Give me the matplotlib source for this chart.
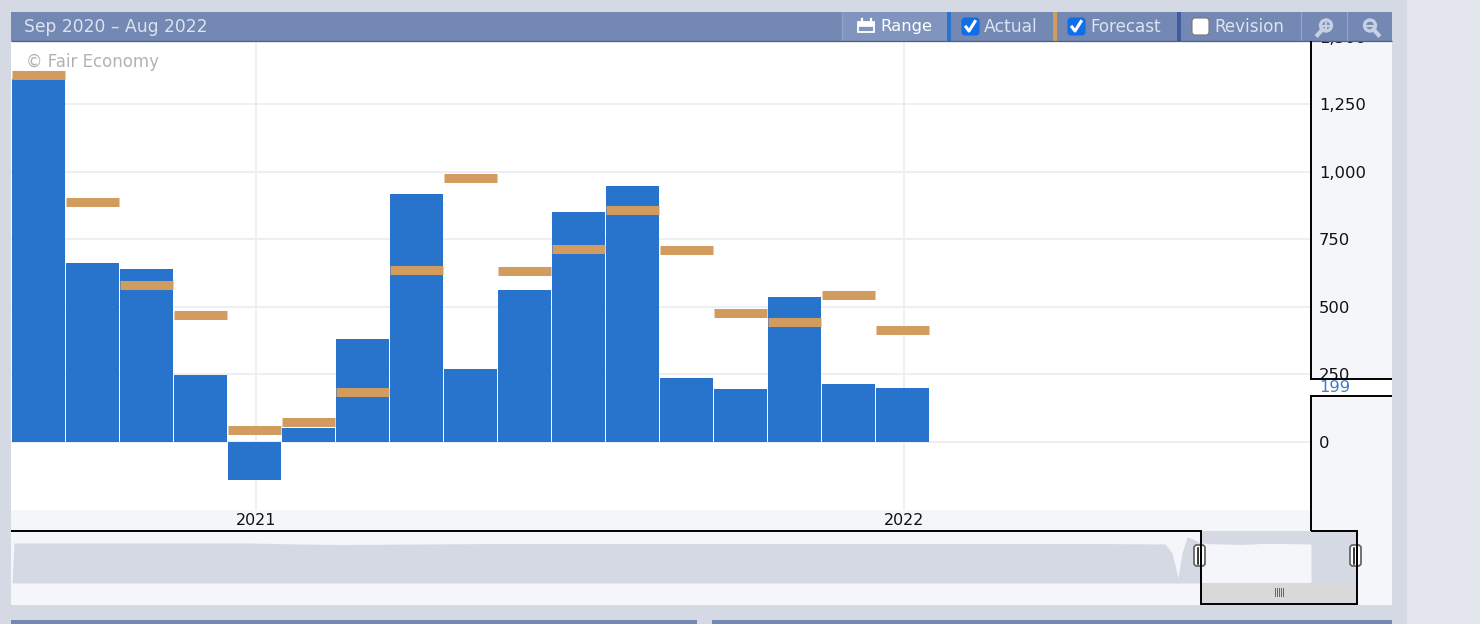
import matplotlib
matplotlib.use("Agg")
import matplotlib.pyplot as plt
from matplotlib.patches import Rectangle, FancyBboxPatch, Circle

# ---- data ----
months = ["Sep 2020", "Oct 2020", "Nov 2020", "Dec 2020", "Jan 2021", "Feb 2021", "Mar 2021",
          "Apr 2021", "May 2021", "Jun 2021", "Jul 2021", "Aug 2021", "Sep 2021", "Oct 2021",
          "Nov 2021", "Dec 2021", "Jan 2022"]
actual = [1344, 663, 640, 248, -141, 52, 381, 918, 270, 563, 852, 948, 237, 196, 537, 215, 199]
forecast = [1360, 889, 581, 470, 45, 75, 185, 637, 978, 633, 715, 859, 711, 478, 444, 544, 415]
y_ticks = [0, 250, 500, 750, 1000, 1250, 1500]
y_tick_labels = ["0", "250", "500", "750", "1,000", "1,250", "1,500"]
year_ticks = [4.025, 16.025]
year_labels = ["2021", "2022"]
last_value = "199"
title_text = "Sep 2020 – Aug 2022"
credit_text = "© Fair Economy"
# overview strip: horizontal position along the full history, level of the series
nav_pos = [12, 14, 120, 250, 300, 340, 500, 800, 1100, 1165, 1172, 1178, 1182, 1187, 1193, 1201]
nav_level = [0, 40, 40, 40, 39, 38.5, 39.5, 39.5, 39.5, 39, 30, 5, 30, 46, 44, 40]
sel_pos = [1201, 1207, 1240, 1262, 1280, 1311]
sel_level = [40, 39.5, 38.5, 39.5, 39.5, 39]

# ---- colours ----
PANEL = "#d5d9e3"; OUTER = "#e4e6ed"; HEAD = "#7488b4"; LIGHT = "#f4f6fa"
BLUE = "#2874cd"; ORANGE = "#d19c5e"; GRID = "#eceef3"; HEADTXT = "#dce3f0"

W, H = 1480, 624
fig = plt.figure(figsize=(W / 100, H / 100), dpi=100, facecolor=OUTER)
FS = 11.8
FB = 12.0


def px_axes(x0, y0, x1, y1, z):
    return fig.add_axes([x0 / W, 1 - y1 / H, (x1 - x0) / W, (y1 - y0) / H], zorder=z)


# background
bg = px_axes(0, 0, W, H, 0)
bg.set_xlim(0, W); bg.set_ylim(H, 0); bg.axis("off")
bg.add_patch(Rectangle((0, 0), 1407, H, fc=PANEL, ec="none"))
bg.add_patch(Rectangle((11, 41), 1381, 564, fc=LIGHT, ec="none"))
bg.add_patch(Rectangle((11, 620), 686, 4, fc=HEAD, ec="none"))
bg.add_patch(Rectangle((712, 620), 680, 4, fc=HEAD, ec="none"))

# main chart (its top edge runs under the header bar, which hides most of the 1,500 label)
ax = px_axes(11, 36, 1311, 510, 1)
ax.set_facecolor("white")
for s in ax.spines.values():
    s.set_visible(False)
ax.set_axisbelow(True)
ax.grid(True, color=GRID, lw=1.3)
ax.bar(range(len(months)), actual, width=53 / 54, color=BLUE, zorder=2)
xs = list(range(len(forecast)))
ax.hlines(forecast, [i - 26.5 / 54 for i in xs], [i + 26.5 / 54 for i in xs],
          color=ORANGE, lw=6.5, capstyle="butt", zorder=3)
ax.yaxis.tick_right()
ax.set_yticks(y_ticks, y_tick_labels)
ax.set_xticks(year_ticks, year_labels)
ax.set_xlim((11 - 38.8) / 54, (1311 - 38.8) / 54)
ax.set_ylim(-252, 406 / 0.27)
ax.tick_params(axis="y", length=0, pad=5.8, labelsize=FS, labelcolor="#111111")
ax.tick_params(axis="x", length=0, pad=2.0, labelsize=11.4, labelcolor="#111111")
ax.text(26, 62, credit_text, transform=bg.transData, color="#b2b2b2", fontsize=FB,
        va="center", ha="left", zorder=5)

# overview strip
nav = px_axes(11, 531, 1357, 583, 2)
nav.set_xlim(11, 1357); nav.set_ylim(0, 52); nav.axis("off")
nav.fill_between(nav_pos, nav_level, 0, color=PANEL, lw=0)
nav.add_patch(Rectangle((1201, 0), 156, 52, fc=PANEL, ec="none"))
nav.fill_between(sel_pos, sel_level, 0, color=LIGHT, lw=0)

# foreground chrome
fg = px_axes(0, 0, W, H, 3)
fg.set_xlim(0, W); fg.set_ylim(H, 0); fg.axis("off"); fg.patch.set_alpha(0)

# header bar
fg.add_patch(Rectangle((11, 12), 1381, 29, fc=HEAD, ec="none"))
fg.add_patch(Rectangle((842, 12), 105, 29, fc="#8094bd", ec="none"))
for x0, x1, c in [(947, 951, BLUE), (1053, 1057, ORANGE), (1177, 1181, "#3e5c9e")]:
    fg.add_patch(Rectangle((x0, 12), x1 - x0, 29, fc=c, ec="none"))
for x in (842, 1301, 1347):
    fg.plot([x, x], [12, 41], color="#93a4c8", lw=0.9)
fg.plot([11, 1392], [41, 41], color="#4d5f85", lw=0.9, solid_capstyle="butt")
fg.text(24, 26.5, title_text, color=HEADTXT, fontsize=12.35, va="center", ha="left")
fg.text(880, 26.5, "Range", color="white", fontsize=FS, va="center", ha="left")
fg.text(984, 26.5, "Actual", color=HEADTXT, fontsize=12.3, va="center", ha="left")
fg.text(1090, 26.5, "Forecast", color=HEADTXT, fontsize=12.1, va="center", ha="left")
fg.text(1214, 26.5, "Revision", color=HEADTXT, fontsize=12.1, va="center", ha="left")

# check boxes
for x, checked in [(962, True), (1068, True), (1192, False)]:
    fg.add_patch(FancyBboxPatch((x + 2, 20), 13, 13, boxstyle="round,pad=2,rounding_size=3",
                                fc="#0f6fe8" if checked else "white",
                                ec="#0f6fe8" if checked else "#777777", lw=0.8))
    if checked:
        fg.plot([x + 4, x + 7, x + 13], [27, 31, 21.5], color="white", lw=2.2)

# calendar icon
fg.add_patch(Rectangle((858, 22), 16, 10, fc="#8094bd", ec="white", lw=1.3))
fg.add_patch(Rectangle((858, 22), 16, 3.5, fc="white", ec="white", lw=0.5))
for x in (861.5, 870.5):
    fg.plot([x, x], [18.5, 22], color="white", lw=1.6)

# zoom icons
ICON = "#c7d0e3"
for cx, plus in [(1326, True), (1370, False)]:
    fg.add_patch(Circle((cx, 25.5), 5.5, fc="none", ec=ICON, lw=2.4))
    if plus:
        fg.plot([cx - 3.5, cx - 8.5], [29.5, 35], color=ICON, lw=3.0)
        fg.plot([cx, cx], [22.5, 28.5], color=ICON, lw=1.6)
    else:
        fg.plot([cx + 3.5, cx + 8.5], [29.5, 35], color=ICON, lw=3.0)
    fg.plot([cx - 3, cx + 3], [25.5, 25.5], color=ICON, lw=1.6)

# last-value strip and axis outline
fg.add_patch(Rectangle((1311, 379), 81, 16, fc="white", ec="none"))
fg.text(1319, 387.5, last_value, color="#3f7fc4", fontsize=FS, va="center", ha="left")
LW = 1.4
fg.plot([1311, 1311, 1392], [41, 379, 379], color="black", lw=LW, solid_joinstyle="miter",
        solid_capstyle="butt")
fg.plot([1392, 1311, 1311], [395.5, 395.5, 530.5], color="black", lw=LW, solid_joinstyle="miter",
        solid_capstyle="butt")
fg.add_patch(Rectangle((1201, 583), 156, 21, fc="#d9d9d9", ec="none"))
fg.plot([11, 1201, 1201, 1357, 1357, 1311], [530.5, 530.5, 604, 604, 530.5, 530.5],
        color="black", lw=LW, solid_joinstyle="miter", solid_capstyle="butt")

# scroll marks and handles
for i in range(5):
    fg.plot([1274.5 + 2 * i] * 2, [588, 596], color="#666666", lw=0.7)
for x in (1199.5, 1355.5):
    fg.add_patch(FancyBboxPatch((x - 3.5, 547), 7, 17, boxstyle="round,pad=2,rounding_size=3",
                                fc="white", ec="#666666", lw=1.3))
    for dx in (-1.5, 1.5):
        fg.plot([x + dx] * 2, [548, 564], color="black", lw=1.1)

fig.savefig("out.png", dpi=100, facecolor=fig.get_facecolor())
